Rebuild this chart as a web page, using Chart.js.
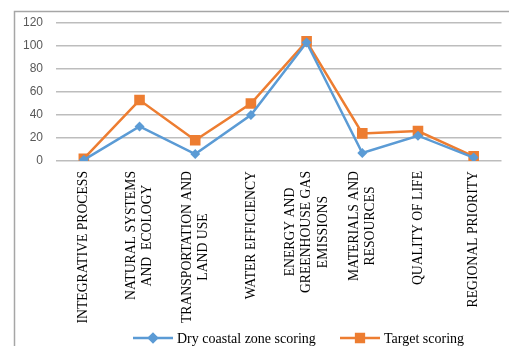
<!DOCTYPE html>
<html>
<head>
<meta charset="utf-8">
<script src="https://cdn.jsdelivr.net/npm/chart.js@4.4.1/dist/chart.umd.min.js"></script>
<style>
    body { margin: 0; background: #fff; }
    #wrap { width: 509px; height: 346px; }
</style>
</head>
<body>
<div id="wrap"><canvas id="myLineChart" width="509" height="346"></canvas></div>
<script>
// categories (multi-line labels) and series
const categories = [
    ['INTEGRATIVE PROCESS'],
    ['NATURAL SYSTEMS', 'AND  ECOLOGY'],
    ['TRANSPORTATION AND', 'LAND USE'],
    ['WATER EFFICIENCY'],
    ['ENERGY AND', 'GREENHOUSE GAS', 'EMISSIONS'],
    ['MATERIALS AND', 'RESOURCES'],
    ['QUALITY OF LIFE'],
    ['REGIONAL PRIORITY']
];
const dryCoastal = [1, 30, 6, 40, 103, 7, 22, 3];
const targetScoring = [2, 53, 18, 50, 104, 24, 26, 4];
const yTicks = [0, 20, 40, 60, 80, 100, 120];

const seriesNames = ['Dry coastal zone scoring', 'Target scoring'];
const seriesColors = ['#5b9bd5', '#ed7d31'];

const serifFont = '"Liberation Serif", "Times New Roman", serif';

// frame, rotated category labels and legend drawn by hand
const extrasPlugin = {
    id: 'extras',
    beforeDraw(chart) {
        const ctx = chart.ctx;
        ctx.save();
        ctx.strokeStyle = '#a6a6a6';
        ctx.lineWidth = 1.5;
        ctx.beginPath();
        ctx.moveTo(14.5, 346);
        ctx.lineTo(14.5, 11.5);
        ctx.lineTo(509, 11.5);
        ctx.stroke();
        ctx.restore();
    },
    afterDraw(chart) {
        const ctx = chart.ctx;
        const xScale = chart.scales.x;
        const lh = 16.5;

        ctx.save();
        ctx.font = '13.7px ' + serifFont;
        ctx.fillStyle = '#000';
        ctx.textBaseline = 'middle';
        ctx.textAlign = 'center';
        categories.forEach((lines, i) => {
            const x = xScale.getPixelForTick(i);
            const maxW = Math.max(...lines.map(l => ctx.measureText(l).width));
            ctx.save();
            ctx.translate(x, 171);
            ctx.rotate(-Math.PI / 2);
            lines.forEach((line, k) => {
                ctx.fillText(line, -maxW / 2, (k - (lines.length - 1) / 2) * lh);
            });
            ctx.restore();
        });
        ctx.restore();

        // legend
        const items = [
            { x: 133, style: 'rectRot', radius: 4 },
            { x: 340, style: 'rect', radius: 5.5 }
        ];
        const ly = 338;
        ctx.save();
        ctx.font = '14px ' + serifFont;
        ctx.textBaseline = 'middle';
        ctx.textAlign = 'left';
        items.forEach((it, i) => {
            ctx.strokeStyle = seriesColors[i];
            ctx.fillStyle = seriesColors[i];
            ctx.lineWidth = 2.5;
            ctx.beginPath();
            ctx.moveTo(it.x, ly);
            ctx.lineTo(it.x + 40, ly);
            ctx.stroke();
            Chart.helpers.drawPoint(ctx, { pointStyle: it.style, rotation: 0, borderWidth: 0 }, it.x + 20, ly);
            ctx.beginPath();
            Chart.helpers.drawPoint(ctx, { pointStyle: it.style, radius: it.radius, rotation: 0, borderWidth: 1 }, it.x + 20, ly);
            ctx.fillStyle = '#000';
            ctx.fillText(seriesNames[i], it.x + 44, ly + 1);
        });
        ctx.restore();
    }
};

function createLineChart() {
    const config = {
        type: 'line',
        data: {
            labels: categories,
            datasets: [{
                label: seriesNames[0],
                data: dryCoastal,
                borderColor: seriesColors[0],
                backgroundColor: seriesColors[0],
                borderWidth: 2.5,
                pointStyle: 'rectRot',
                pointRadius: 5,
                pointBorderWidth: 0,
                tension: 0
            }, {
                label: seriesNames[1],
                data: targetScoring,
                borderColor: seriesColors[1],
                backgroundColor: seriesColors[1],
                borderWidth: 2.5,
                pointStyle: 'rect',
                pointRadius: 7.5,
                pointBorderWidth: 0,
                tension: 0
            }]
        },
        options: {
            responsive: false,
            animation: false,
            layout: {
                padding: { top: 23, right: 1, left: 0, bottom: 0 }
            },
            plugins: {
                legend: { display: false },
                tooltip: { enabled: false }
            },
            scales: {
                x: {
                    offset: true,
                    grid: { display: false },
                    border: { display: false },
                    ticks: { display: false },
                    afterFit(scale) { scale.height = 185; }
                },
                y: {
                    min: 0,
                    max: 120,
                    afterBuildTicks(scale) { scale.ticks = yTicks.map(v => ({ value: v })); },
                    grid: { color: '#bdbdbd', lineWidth: 1.5, drawTicks: false },
                    border: { display: false },
                    ticks: {
                        padding: 13,
                        color: '#595959',
                        font: { family: '"Liberation Sans", Arial, sans-serif', size: 12 }
                    },
                    afterFit(scale) { scale.width = 56; }
                }
            }
        },
        plugins: [extrasPlugin]
    };
    const ctx = document.getElementById('myLineChart').getContext('2d');
    new Chart(ctx, config);
}

createLineChart();
</script>
</body>
</html>
